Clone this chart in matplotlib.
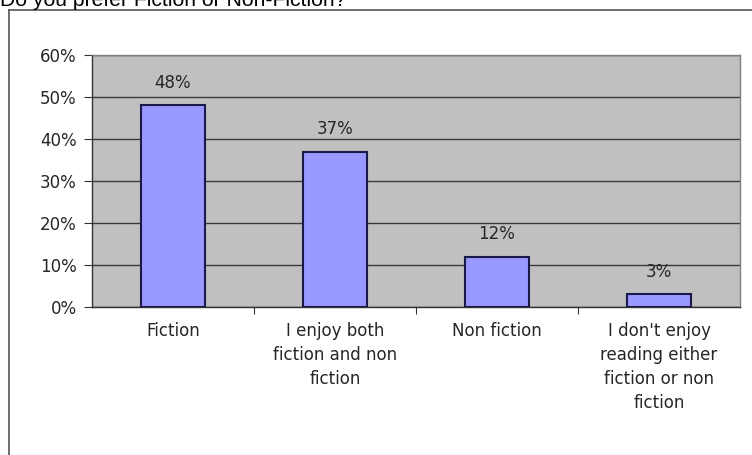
import matplotlib
matplotlib.use("Agg")
import matplotlib.pyplot as plt
from matplotlib.lines import Line2D

title = "Do you prefer Fiction or Non-Fiction?"
categories = ["Fiction", "I enjoy both\nfiction and non\nfiction", "Non fiction",
              "I don't enjoy\nreading either\nfiction or non\nfiction"]
values = [48, 37, 12, 3]
yticks = [0, 10, 20, 30, 40, 50, 60]
ytick_labels = ["0%", "10%", "20%", "30%", "40%", "50%", "60%"]

plt.rcParams['font.family'] = ['DejaVu Sans']

W, H = 752, 455
fig = plt.figure(figsize=(W / 100, H / 100), dpi=100)
fig.patch.set_facecolor("white")

# outer chart border (left and top visible)
fig.add_artist(Line2D([9 / W, 9 / W], [0, 1 - 10 / H], transform=fig.transFigure,
                      color="#555555", lw=1.2))
fig.add_artist(Line2D([9 / W, 1], [1 - 10 / H, 1 - 10 / H], transform=fig.transFigure,
                      color="#555555", lw=1.2))

# title, cut off at the top of the image
fig.text(0 / W, 1 - 6 / H, title, fontsize=15.2, color="black",
         ha="left", va="baseline", family=['Liberation Sans', 'DejaVu Sans'])

left, right, top, bottom = 92, 740, 55, 307
ax = fig.add_axes([left / W, 1 - bottom / H, (right - left) / W, (bottom - top) / H])
ax.set_facecolor("#C0C0C0")

txtc = "#262626"
fs = 12

x = list(range(len(categories)))
bars = ax.bar(x, values, width=0.4, color="#9999FF", edgecolor="#1a1a4a",
              linewidth=1.5, zorder=3)
for xi, v in zip(x, values):
    ax.text(xi, v + 3.2, f"{v}%", ha="center", va="bottom", fontsize=fs,
            color=txtc, zorder=4)

ax.set_xlim(-0.5, len(categories) - 0.5)
ax.set_ylim(0, 60)
ax.set_yticks(yticks)
ax.set_yticklabels(ytick_labels, fontsize=fs, color=txtc)
ax.yaxis.grid(True, color="#3a3a3a", lw=1.0, zorder=1)
ax.set_axisbelow(True)

# category ticks at boundaries, labels at centers
ax.set_xticks([i + 0.5 for i in range(len(categories) - 1)])
ax.set_xticklabels([])
ax.set_xticks(x, minor=True)
ax.set_xticklabels(categories, minor=True, fontsize=fs, color=txtc,
                   linespacing=1.44)
ax.tick_params(axis="x", which="minor", length=0, pad=10.5)
ax.tick_params(axis="x", which="major", length=5, direction="out", color="#333333")
ax.tick_params(axis="y", length=6, direction="out", color="#333333", pad=5)

for s in ["top", "right"]:
    ax.spines[s].set_color("#808080")
    ax.spines[s].set_linewidth(1.0)
for s in ["left", "bottom"]:
    ax.spines[s].set_color("#333333")
    ax.spines[s].set_linewidth(1.0)

fig.savefig("out.png", dpi=100)
